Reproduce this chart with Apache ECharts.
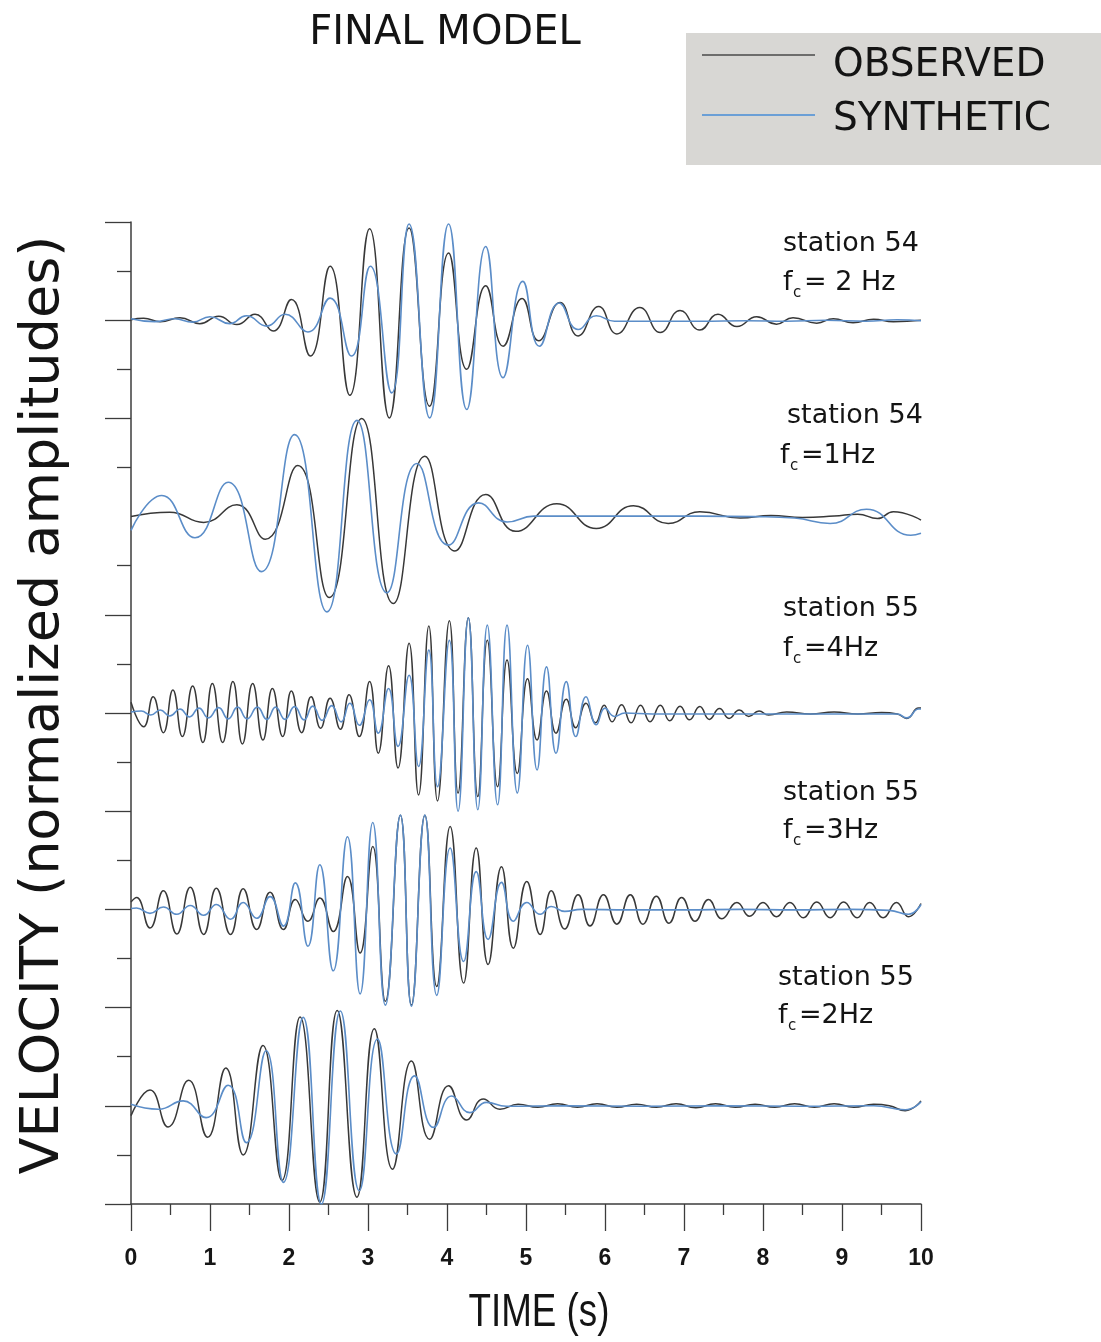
<!DOCTYPE html>
<html><head><meta charset="utf-8">
<script src="https://cdn.jsdelivr.net/npm/echarts/dist/echarts.min.js"></script>
<style>html,body{margin:0;padding:0;background:#fff}#c{width:1101px;height:1342px}</style>
</head><body><div id="c"></div>
<script>
// ---------------- data (time s, normalized amplitude; extrema) ----------------
const X_TICKS = [0,1,2,3,4,5,6,7,8,9,10];
const STATION_NAMES = ['station 54','station 54','station 55','station 55','station 55'];
const FC_TEXTS = ['= 2 Hz','=1Hz','=4Hz','=3Hz','=2Hz'];
const BASELINES = [18,14,10,6,2];

const OBS_S54_2HZ = [[0.00,0.01],[0.16,0.04],[0.37,-0.03],[0.62,0.05],[0.87,-0.07],[1.11,0.08],[1.34,-0.09],[1.57,0.12],[1.80,-0.22],[2.03,0.42],[2.27,-0.73],[2.52,1.10],[2.77,-1.53],[3.02,1.86],[3.27,-1.99],[3.52,1.88],[3.78,-1.75],[4.02,1.37],[4.25,-1.00],[4.49,0.70],[4.71,-0.53],[4.95,0.44],[5.16,-0.42],[5.43,0.36],[5.66,-0.32],[5.92,0.28],[6.15,-0.28],[6.44,0.26],[6.70,-0.25],[6.95,0.20],[7.20,-0.20],[7.43,0.12],[7.67,-0.13],[7.92,0.07],[8.17,-0.08],[8.38,0.05],[8.68,-0.06],[8.89,0.03],[9.14,-0.05],[9.40,0.02],[9.65,-0.03],[10.0,0.0]];
const SYN_S54_2HZ = [[0.00,0.03],[0.30,-0.03],[0.55,0.03],[0.78,-0.04],[1.00,0.07],[1.25,-0.07],[1.46,0.09],[1.72,-0.12],[1.95,0.12],[2.24,-0.24],[2.52,0.45],[2.79,-0.73],[3.03,1.10],[3.30,-1.48],[3.52,1.96],[3.78,-1.99],[4.02,1.96],[4.25,-1.82],[4.49,1.50],[4.71,-1.17],[4.96,0.79],[5.17,-0.53],[5.42,0.35],[5.66,-0.19],[5.89,0.09],[6.12,-0.02],[6.60,-0.02],[7.20,-0.02],[7.80,-0.01],[8.30,-0.02],[8.80,0.00],[9.30,-0.02],[9.70,0.01],[10.0,-0.01]];

const OBS_S54_1HZ = [[0.00,0.00],[0.49,0.09],[0.92,-0.12],[1.34,0.24],[1.70,-0.46],[2.11,1.04],[2.51,-1.65],[2.92,2.00],[3.32,-1.77],[3.72,1.23],[4.10,-0.70],[4.49,0.45],[4.87,-0.30],[5.39,0.26],[5.89,-0.24],[6.36,0.22],[6.80,-0.14],[7.20,0.10],[7.71,-0.03],[8.10,0.02],[8.50,-0.02],[8.90,0.01],[9.20,0.05],[9.45,-0.04],[9.65,0.10],[10.0,-0.07]];
const SYN_S54_1HZ = [[0.00,-0.28],[0.39,0.43],[0.81,-0.43],[1.23,0.70],[1.65,-1.12],[2.07,1.67],[2.48,-1.94],[2.86,1.96],[3.24,-1.55],[3.62,1.08],[4.02,-0.58],[4.40,0.28],[4.76,-0.11],[5.10,0.01],[5.80,0.01],[6.50,0.01],[7.20,0.01],[7.90,0.00],[8.40,-0.03],[8.85,-0.14],[9.31,0.15],[9.87,-0.38],[10.0,-0.34]];

const OBS_S55_4HZ = [[0.00,0.22],[0.16,-0.28],[0.28,0.33],[0.41,-0.40],[0.53,0.47],[0.65,-0.48],[0.78,0.55],[0.91,-0.60],[1.03,0.60],[1.16,-0.60],[1.29,0.64],[1.41,-0.63],[1.54,0.60],[1.67,-0.55],[1.79,0.50],[1.92,-0.48],[2.03,0.45],[2.16,-0.40],[2.28,0.33],[2.40,-0.31],[2.52,0.30],[2.65,-0.33],[2.76,0.37],[2.89,-0.48],[3.02,0.64],[3.13,-0.82],[3.26,0.96],[3.38,-1.12],[3.52,1.42],[3.64,-1.67],[3.77,1.77],[3.88,-1.79],[4.03,1.88],[4.14,-1.63],[4.27,1.94],[4.39,-1.70],[4.51,1.48],[4.64,-1.50],[4.76,1.08],[4.89,-1.23],[5.02,0.70],[5.14,-0.55],[5.26,0.45],[5.38,-0.41],[5.51,0.28],[5.63,-0.30],[5.76,0.20],[5.88,-0.20],[5.99,0.16],[6.09,-0.18],[6.21,0.17],[6.33,-0.20],[6.45,0.16],[6.57,-0.18],[6.70,0.16],[6.82,-0.16],[6.95,0.14],[7.07,-0.14],[7.20,0.13],[7.32,-0.13],[7.45,0.09],[7.57,-0.11],[7.70,0.06],[7.82,-0.07],[7.95,0.04],[8.07,-0.04],[8.30,0.02],[8.60,-0.02],[8.90,0.02],[9.20,-0.02],[9.50,0.01],[9.70,-0.02],[9.82,-0.11],[9.97,0.10],[10.0,0.10]];
const SYN_S55_4HZ = [[0.00,0.02],[0.13,0.04],[0.25,-0.04],[0.37,0.06],[0.49,-0.06],[0.62,0.08],[0.74,-0.08],[0.86,0.10],[0.98,-0.10],[1.11,0.11],[1.23,-0.12],[1.35,0.12],[1.47,-0.12],[1.60,0.12],[1.72,-0.13],[1.83,0.12],[1.95,-0.13],[2.07,0.13],[2.19,-0.14],[2.30,0.14],[2.42,-0.15],[2.54,0.15],[2.66,-0.18],[2.77,0.20],[2.89,-0.25],[3.02,0.27],[3.13,-0.41],[3.26,0.50],[3.38,-0.68],[3.52,0.77],[3.64,-1.09],[3.77,1.28],[3.88,-1.50],[4.03,1.48],[4.14,-2.00],[4.27,1.94],[4.39,-1.97],[4.51,1.79],[4.64,-1.87],[4.76,1.79],[4.89,-1.63],[5.02,1.38],[5.14,-1.16],[5.26,0.94],[5.38,-0.82],[5.51,0.64],[5.63,-0.48],[5.76,0.33],[5.89,-0.24],[6.00,0.10],[6.12,-0.07],[6.25,0.00],[6.60,-0.02],[7.30,-0.02],[8.00,-0.02],[8.70,-0.02],[9.40,-0.02],[9.70,-0.02],[9.82,-0.10],[9.97,0.08],[10.0,0.08]];

const OBS_S55_3HZ = [[0.00,0.15],[0.07,0.24],[0.24,-0.38],[0.41,0.38],[0.58,-0.50],[0.75,0.45],[0.92,-0.51],[1.08,0.43],[1.26,-0.51],[1.42,0.42],[1.59,-0.41],[1.76,0.35],[1.93,-0.41],[2.08,0.20],[2.24,-0.24],[2.39,0.23],[2.56,-0.45],[2.74,0.67],[2.90,-0.89],[3.06,1.28],[3.22,-1.87],[3.41,1.92],[3.55,-1.95],[3.72,1.92],[3.87,-1.57],[4.04,1.69],[4.21,-1.50],[4.37,1.25],[4.52,-1.12],[4.69,0.87],[4.84,-0.79],[5.01,0.57],[5.18,-0.51],[5.32,0.38],[5.49,-0.40],[5.66,0.30],[5.81,-0.34],[5.98,0.30],[6.15,-0.30],[6.32,0.30],[6.48,-0.30],[6.65,0.27],[6.81,-0.28],[6.97,0.24],[7.14,-0.24],[7.31,0.20],[7.48,-0.19],[7.67,0.14],[7.83,-0.14],[8.00,0.14],[8.17,-0.15],[8.34,0.14],[8.51,-0.17],[8.68,0.15],[8.85,-0.17],[9.02,0.15],[9.19,-0.17],[9.35,0.14],[9.52,-0.17],[9.69,0.14],[9.84,-0.15],[10.0,0.12]];
const SYN_S55_3HZ = [[0.00,0.02],[0.07,0.03],[0.24,-0.08],[0.41,0.05],[0.58,-0.10],[0.75,0.08],[0.92,-0.12],[1.08,0.10],[1.26,-0.20],[1.42,0.14],[1.59,-0.18],[1.76,0.26],[1.93,-0.34],[2.08,0.54],[2.24,-0.75],[2.39,0.91],[2.56,-1.25],[2.74,1.48],[2.90,-1.72],[3.06,1.77],[3.22,-1.95],[3.41,1.92],[3.55,-1.97],[3.72,1.92],[3.87,-1.75],[4.04,1.25],[4.21,-1.06],[4.37,0.77],[4.52,-0.61],[4.69,0.55],[4.84,-0.24],[5.01,0.14],[5.18,-0.10],[5.32,0.06],[5.49,-0.04],[5.70,0.00],[6.30,-0.01],[7.00,-0.01],[7.70,0.00],[8.40,-0.01],[9.10,0.00],[9.60,-0.02],[9.84,-0.10],[10.0,0.10]];

const OBS_S55_2HZ = [[0.00,-0.20],[0.24,0.32],[0.47,-0.43],[0.73,0.52],[0.97,-0.64],[1.20,0.77],[1.42,-1.00],[1.67,1.23],[1.91,-1.52],[2.14,1.81],[2.39,-1.96],[2.61,1.94],[2.86,-1.86],[3.08,1.57],[3.31,-1.29],[3.55,0.91],[3.78,-0.68],[4.02,0.41],[4.25,-0.29],[4.46,0.14],[4.67,-0.07],[4.90,0.03],[5.15,-0.03],[5.40,0.04],[5.65,-0.03],[5.90,0.04],[6.15,-0.03],[6.40,0.03],[6.65,-0.03],[6.90,0.04],[7.15,-0.04],[7.40,0.04],[7.65,-0.03],[7.90,0.03],[8.15,-0.03],[8.40,0.04],[8.65,-0.03],[8.90,0.04],[9.15,-0.03],[9.40,0.03],[9.60,0.00],[9.80,-0.10],[10.0,0.10]];
const SYN_S55_2HZ = [[0.00,0.03],[0.35,-0.07],[0.66,0.10],[0.95,-0.24],[1.23,0.42],[1.46,-0.75],[1.71,1.12],[1.93,-1.56],[2.18,1.80],[2.41,-2.00],[2.65,1.93],[2.89,-1.73],[3.12,1.36],[3.36,-0.98],[3.59,0.61],[3.83,-0.44],[4.06,0.20],[4.29,-0.14],[4.50,0.07],[4.75,-0.01],[5.50,0.00],[6.50,-0.01],[7.50,0.00],[8.50,-0.01],[9.40,0.00],[9.80,-0.08],[10.0,0.08]];

const OBSERVED = [OBS_S54_2HZ, OBS_S54_1HZ, OBS_S55_4HZ, OBS_S55_3HZ, OBS_S55_2HZ];
const SYNTHETIC = [SYN_S54_2HZ, SYN_S54_1HZ, SYN_S55_4HZ, SYN_S55_3HZ, SYN_S55_2HZ];

// ---------------- style ----------------
const AX = '#3c3c3c';
const OBS_COLOR = '#383838';
const SYN_COLOR = '#5b8dc8';
const LABEL_FONT = 'DejaVu Sans';

const series = [];
OBSERVED.forEach((arr, i) => {
  series.push({
    name: 'OBSERVED', type: 'line', smooth: 0.5, symbol: 'none', z: 2,
    lineStyle: { color: OBS_COLOR, width: 1.5 },
    data: arr.map(p => [p[0], BASELINES[i] + p[1]])
  });
});
SYNTHETIC.forEach((arr, i) => {
  series.push({
    name: 'SYNTHETIC', type: 'line', smooth: 0.5, symbol: 'none', z: 3,
    lineStyle: { color: SYN_COLOR, width: 1.6 },
    data: arr.map(p => [p[0], BASELINES[i] + p[1]])
  });
});

// station label positions (left x, text middle y)
const LABEL_POS = [[783,244,783,283],[787,416,780,456],[783,609,783,649],[783,793,783,831],[778,978,778,1016]];
const graphics = [];
// legend box
graphics.push({ type:'rect', shape:{x:686,y:33,width:415,height:132}, style:{fill:'#d8d7d4'}, z:1 });
graphics.push({ type:'line', shape:{x1:702,y1:55,x2:815,y2:55}, style:{stroke:'#4a4a4a', lineWidth:1.6}, z:2 });
graphics.push({ type:'line', shape:{x1:702,y1:115,x2:815,y2:115}, style:{stroke:'#6b9fd6', lineWidth:2}, z:2 });
function txt(x, y, s, size, opts) {
  opts = opts || {};
  return Object.assign({ type:'text', x:x, y:y, z:5,
    style:{ text:s, x:0, y:0, fill:'#141414', font:(opts.weight||'normal')+' '+size+'px "'+(opts.family||LABEL_FONT)+'"',
      align:opts.align||'left', textAlign:opts.align||'left', verticalAlign:'middle', textVerticalAlign:'middle' } },
    opts.extra || {});
}
graphics.push(txt(833, 66, 'OBSERVED', 39));
graphics.push(txt(833, 120, 'SYNTHETIC', 39));
graphics.push(txt(445, 34, 'FINAL MODEL', 40, {align:'center'}));
graphics.push(txt(539, 1313, 'TIME (s)', 46, {align:'center', family:'Liberation Sans', extra:{scaleX:0.8}}));
graphics.push(txt(44, 705, 'VELOCITY (normalized amplitudes)', 54, {align:'center', extra:{rotation:Math.PI/2}}));
STATION_NAMES.forEach((name, i) => {
  const p = LABEL_POS[i];
  graphics.push(txt(p[0], p[1], name, 27));
  graphics.push(txt(p[2], p[3], 'f', 27));
  graphics.push(txt(p[2] + 10, p[3] + 10, 'c', 15));
  graphics.push(txt(p[2] + 21, p[3], FC_TEXTS[i], 27));
});

const chart = echarts.init(document.getElementById('c'), null, { renderer: 'canvas' });
chart.setOption({
  animation: false,
  backgroundColor: '#ffffff',
  grid: { left: 131, right: 180, top: 222, bottom: 138, containLabel: false },
  xAxis: {
    type: 'value', min: X_TICKS[0], max: X_TICKS[X_TICKS.length - 1], interval: 1,
    axisLine: { show: true, lineStyle: { color: AX, width: 1.5 } },
    axisTick: { show: true, length: 27, lineStyle: { color: AX, width: 1.3 } },
    minorTick: { show: true, splitNumber: 2, length: 11, lineStyle: { color: AX, width: 1.3 } },
    axisLabel: { show: true, margin: 43, fontSize: 23, fontWeight: 'bold', fontFamily: 'Liberation Sans', color: '#161616',
      formatter: v => String(v) },
    splitLine: { show: false }
  },
  yAxis: [
    { type: 'value', min: 0, max: 20, interval: 2, position: 'left',
      axisLine: { show: true, lineStyle: { color: AX, width: 1.5 } },
      axisTick: { show: true, length: 26, customValues: [0,2,4,6,8,10,12,16,18,20], lineStyle: { color: AX, width: 1.3 } },
      axisLabel: { show: false }, splitLine: { show: false } },
    { type: 'value', min: 0, max: 20, interval: 1, position: 'left',
      axisLine: { show: false },
      axisTick: { show: true, length: 14, customValues: [1,3,5,7,9,11,13,15,17,19], lineStyle: { color: AX, width: 1.3 } },
      axisLabel: { show: false }, splitLine: { show: false } }
  ],
  series: series,
  graphic: { elements: graphics }
});
</script></body></html>
